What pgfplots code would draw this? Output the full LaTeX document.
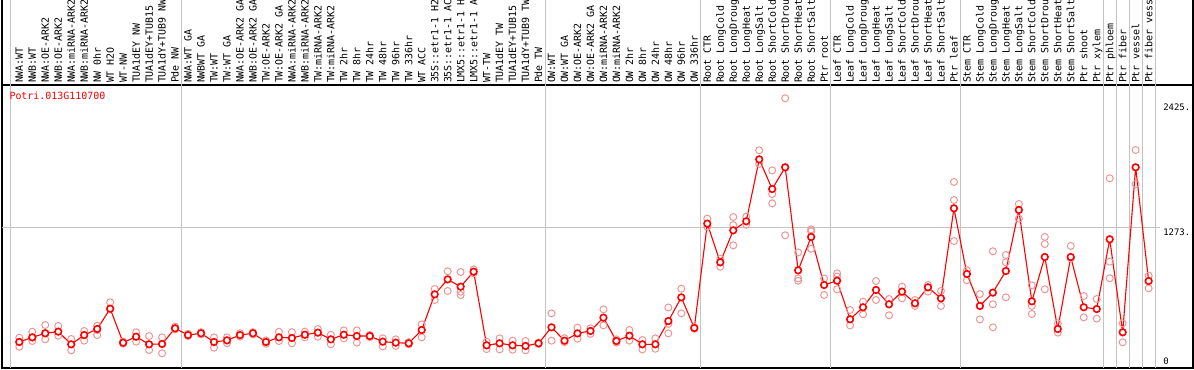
\documentclass[border=0pt]{standalone}
\usepackage{pgfplots}
\pgfplotsset{compat=1.18}
\usepackage{fontspec}
\newfontfamily\monof{DejaVu Sans Mono}
\definecolor{rep}{RGB}{238,150,150}
\definecolor{gridg}{RGB}{195,195,195}
\begin{document}
\begin{tikzpicture}
\begin{axis}[
  at={(2bp,2bp)}, anchor=south west,
  scale only axis, width=1191bp, height=283bp,
  xmin=-1.3328, xmax=90.42, ymin=0, ymax=2567.7,
  clip=false,
  axis line style={black, line width=1.3bp},
  ytick=\empty,
  xtick={0,...,87},
  major tick length=0pt,
  xticklabel pos=upper,
  xticklabel style={rotate=90, anchor=west, inner sep=0pt, inner xsep=1.8bp,
    text height=7.3bp, text depth=0pt, font=\monof\fontsize{10}{12}\selectfont},
  xticklabels={NWA:WT,NWB:WT,NWA:OE-ARK2,NWB:OE-ARK2,NWA:miRNA-ARK2,NWB:miRNA-ARK2,NW 0hr,WT H2O,WT-NW,TUA1dEY NW,TUA1dEY+TUB15,TUA1dY+TUB9 NW,Pde NW,
  NWA:WT GA,NWBWT GA,TW:WT,TW:WT GA,NWA:OE-ARK2 GA,NWB:OE-ARK2 GA,TW:OE-ARK2,TW:OE-ARK2 GA,NWA:miRNA-ARK2,NWB:miRNA-ARK2,TW:miRNA-ARK2,TW:miRNA-ARK2,TW 2hr,TW 8hr,TW 24hr,TW 48hr,TW 96hr,TW 336hr,WT ACC,35S::etr1-1 H2,35S::etr1-1 AC,LMX5::etr1-1 H,LMX5::etr1-1 A,WT-TW,TUA1dEY TW,TUA1dEY+TUB15,TUA1dY+TUB9 TW,Pde TW,
  OW:WT,OW:WT GA,OW:OE-ARK2,OW:OE-ARK2 GA,OW:miRNA-ARK2,OW:miRNA-ARK2,OW 2hr,OW 8hr,OW 24hr,OW 48hr,OW 96hr,OW 336hr,
  Root CTR,Root LongCold,Root LongDroug,Root LongHeat,Root LongSalt,Root ShortCold,Root ShortDrou,Root ShortHeat,Root ShortSalt,Ptr root,
  Leaf CTR,Leaf LongCold,Leaf LongDroug,Leaf LongHeat,Leaf LongSalt,Leaf ShortCold,Leaf ShortDrou,Leaf ShortHeat,Leaf ShortSalt,Ptr leaf,
  Stem CTR,Stem LongCold,Stem LongDroug,Stem LongHeat,Stem LongSalt,Stem ShortCold,Stem ShortDrou,Stem ShortHeat,Stem ShortSalt,Ptr shoot,Ptr xylem,
  Ptr phloem,Ptr fiber,Ptr vessel,Ptr fiber vess},
]
% separators
\foreach \g in {-0.7165,12.5,40.5,52.5,62.5,72.5,83.5,84.5,85.5,86.5,87.5}{
  \edef\temp{\noexpand\draw[gridg, line width=1bp] (axis cs:\g,0) -- (axis cs:\g,3450);}
  \temp
}
\draw[gridg, line width=1bp] (axis cs:-1.3328,1273) -- (axis cs:87.9,1273);
\draw[black, line width=1.3bp] (rel axis cs:0,1) -- (rel axis cs:0,1.32);
\draw[black, line width=1.3bp] (rel axis cs:1,1) -- (rel axis cs:1,1.32);
% replicates
\addplot[only marks, mark=o, mark size=3.5bp, mark options={draw=rep, line width=1bp}] coordinates {
(0,275)(0,193)(0,236)(1,329)(1,245)(1,278)(2,390)(2,260)(2,315)(3,381)(3,293)(4,263)(4,160)(5,336)(5,248)(6,384)(6,299)(6,345)(7,596)(7,538)(8,240)(8,220)(9,324)(9,239)(10,290)(10,163)(11,278)(11,133)(12,375)(12,350)
(13,310)(13,290)(14,325)(14,305)(15,278)(15,184)(16,278)(16,225)(17,315)(17,285)(18,325)(18,305)(19,251)(19,220)(20,329)(20,245)(21,326)(21,224)(22,330)(22,278)(23,354)(23,284)(24,302)(24,215)(25,341)(25,269)(26,341)(26,230)(27,300)(27,280)(28,269)(28,196)(29,260)(29,200)(30,235)(30,215)(31,396)(31,278)(32,717)(32,617)(33,877)(33,699)(34,871)(34,692)(34,662)(35,895)(35,859)(36,239)(36,172)(37,269)(37,169)(38,248)(38,166)(39,245)(39,160)(40,230)(40,218)
(41,496)(41,248)(42,270)(42,235)(43,366)(43,266)(44,360)(44,310)(45,532)(45,387)(46,260)(46,230)(47,345)(47,248)(48,254)(48,169)(49,269)(49,175)(50,549)(50,314)(50,400)(51,720)(51,496)(52,370)(52,356)
(53,1355)(53,1282)(54,919)(54,990)(55,1370)(55,1297)(55,1113)(56,1373)(56,1300)(57,1975)(57,1851)(58,1793)(58,1579)(58,1494)(59,2447)(59,1204)(59,1821)(60,1049)(60,813)(60,792)(61,1258)(61,1082)(61,1240)(62,813)(62,662)
(63,859)(63,714)(63,830)(64,526)(64,387)(65,602)(65,487)(66,789)(66,617)(67,626)(67,478)(68,738)(68,632)(69,617)(69,563)(70,753)(70,693)(71,699)(71,563)(72,1688)(72,1524)(72,1152)
(73,886)(73,796)(74,671)(74,441)(75,1059)(75,578)(75,369)(76,1025)(76,959)(76,641)(77,1488)(77,1355)(78,750)(78,563)(78,490)(79,1189)(79,1125)(79,714)(80,405)(80,321)(81,1107)(81,995)(82,653)(82,460)(83,626)(83,448)
(84,1721)(84,965)(84,814)(85,405)(85,233)(86,1978)(86,1669)(87,838)(87,723)
};
% means
\addplot[red, line width=1.1bp, mark=*, mark size=3.3bp, mark options={fill=white, draw=red, line width=1.6bp}] coordinates {
(0,236)(1,278)(2,315)(3,330)(4,215)(5,299)(6,354)(7,538)(8,230)(9,284)(10,215)(11,218)(12,360)
(13,299)(14,315)(15,236)(16,251)(17,299)(18,315)(19,236)(20,278)(21,272)(22,302)(23,321)(24,260)(25,302)(26,290)(27,290)(28,239)(29,230)(30,224)(31,345)(32,668)(33,804)(34,738)(35,874)(36,206)(37,224)(38,206)(39,200)(40,224)
(41,369)(42,248)(43,314)(44,336)(45,457)(46,245)(47,293)(48,215)(49,215)(50,426)(51,641)(52,363)
(53,1310)(54,959)(55,1249)(56,1331)(57,1893)(58,1624)(59,1821)(60,886)(61,1189)(62,753)
(63,792)(64,442)(65,551)(66,708)(67,578)(68,693)(69,587)(70,732)(71,632)(72,1449)
(73,853)(74,563)(75,684)(76,880)(77,1434)(78,605)(79,1007)(80,354)(81,1007)(82,551)(83,535)
(84,1168)(85,324)(86,1821)(87,789)
};
% texts
\node[anchor=west, inner sep=0pt, text=red, font=\monof\fontsize{10}{12}\selectfont] at (axis cs:-0.770,2468) {Potri.013G110700};
\node[anchor=west, inner sep=0pt, font=\monof\fontsize{9}{11}\selectfont] at (axis cs:88.11,2365) {2425.};
\node[anchor=west, inner sep=0pt, font=\monof\fontsize{9}{11}\selectfont] at (axis cs:88.11,1228) {1273.};
\node[anchor=west, inner sep=0pt, font=\monof\fontsize{9}{11}\selectfont] at (axis cs:88.11,57) {0};
\end{axis}
\pgfresetboundingbox
\path[use as bounding box] (0,0) rectangle (1194bp,370bp);
\end{tikzpicture}
\end{document}
